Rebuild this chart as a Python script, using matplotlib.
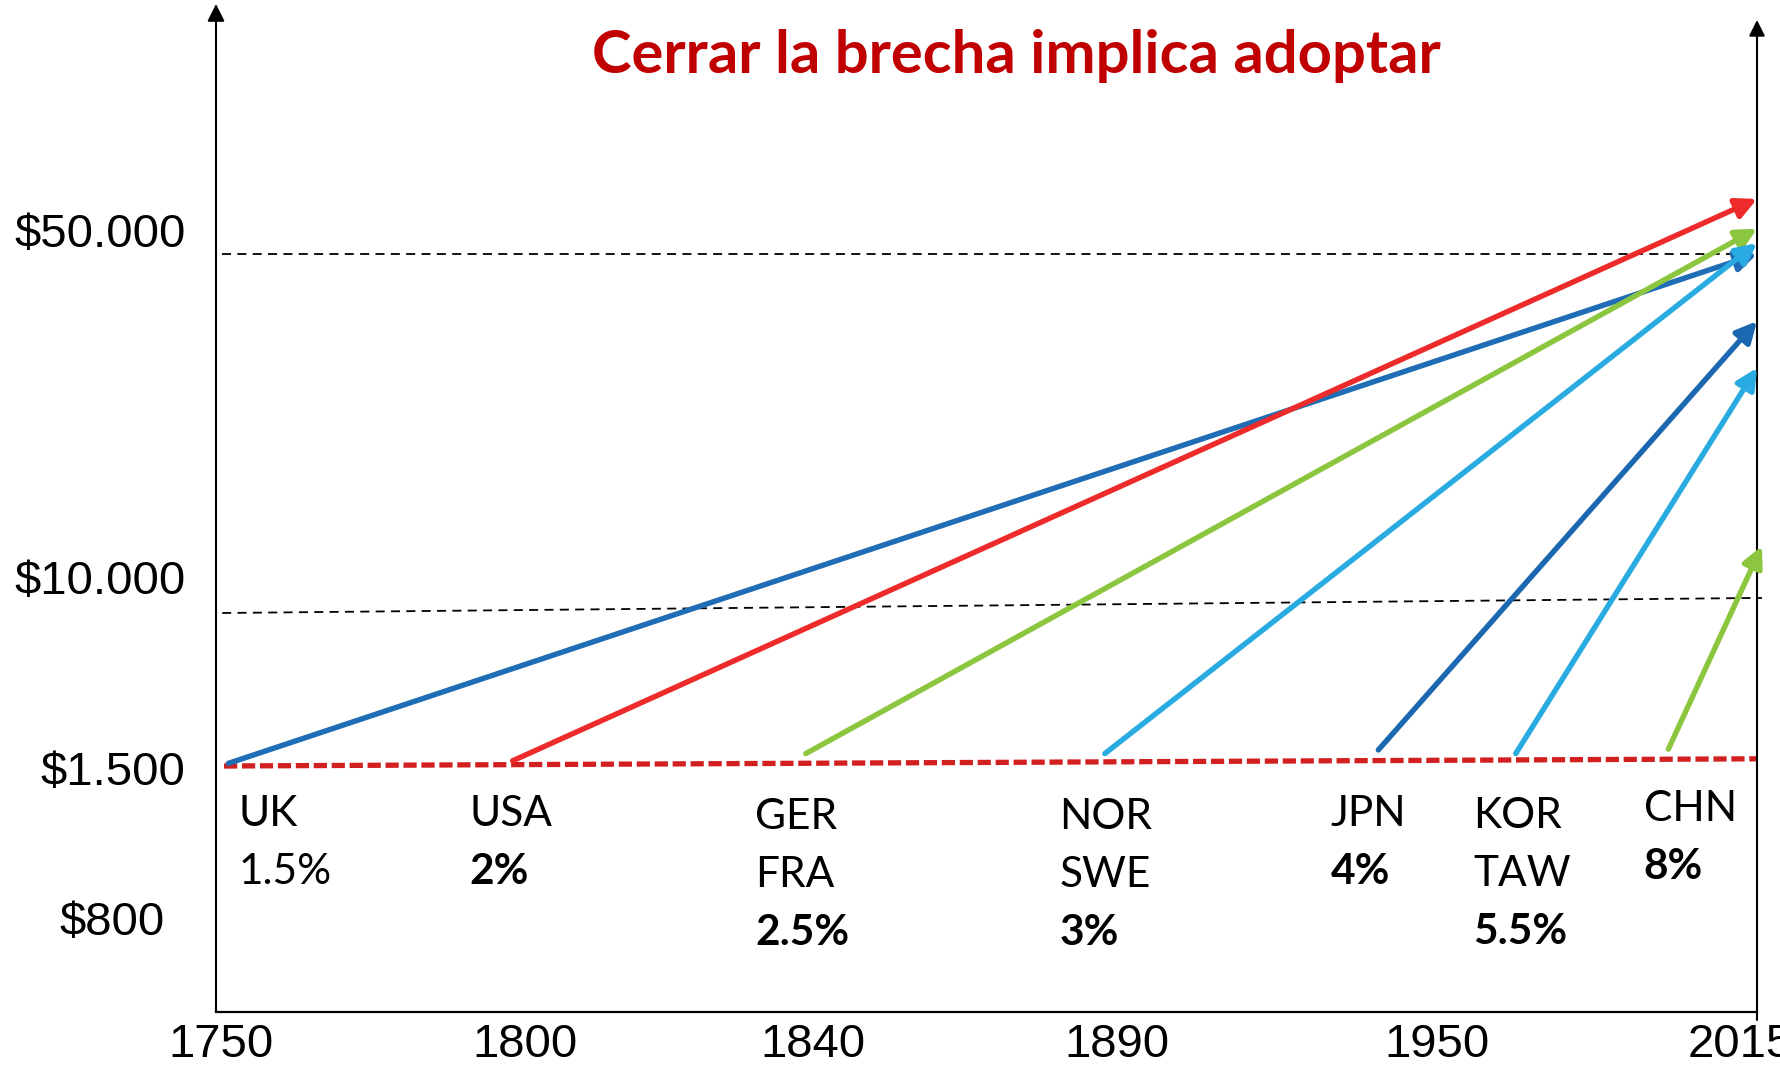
import numpy as np
import matplotlib
matplotlib.use("Agg")
import matplotlib.pyplot as plt
import matplotlib.patheffects as pe
from matplotlib.transforms import ScaledTranslation

W, H = 1781, 1066

# --- datos ---
years = [1750, 1800, 1840, 1890, 1950, 2015]
income_ticks = [800, 1500, 10000, 50000]
income_labels = ["$800", "$1.500", "$10.000", "$50.000"]

countries = [["UK"], ["USA"], ["GER", "FRA"], ["NOR", "SWE"], ["JPN"], ["KOR", "TAW"], ["CHN"]]
growth = ["1.5%", "2%", "2.5%", "3%", "4%", "5.5%", "8%"]
start_year = [1752, 1798, 1839, 1888, 1939, 1966, 1997]
start_income = [1550, 1600, 1750, 1750, 1830, 1750, 1850]
end_year = [2015, 2015, 2015, 2015, 2015, 2015, 2016]
end_income = [50000, 64000, 56000, 52500, 37000, 30000, 13500]

# lineas de referencia: (anio inicio, ingreso inicio, anio fin, ingreso fin)
ref_50k = (1751, 50000, 2015, 50000)
ref_10k = (1751, 10000, 2016, 10700)
ref_1500 = (1751.3, 1500, 2015, 1640)

# --- estilo / layout ---
colors = ["#1f6db5", "#ee2b2b", "#8cc63f", "#29abe2", "#1b68b0", "#29abe2", "#8cc63f"]
growth_bold = [False, True, True, True, True, True, True]
label_year = [1753.6, 1791, 1832, 1880.5, 1930, 1957.3, 1992]
label_dy = [-48, -48, -51, -51, -48, -50, -43]
line_step = 58

year_px = [216, 525, 813, 1117, 1437, 1757]
income_px = [148, 300, 453, 812]


def piecewise(x, xp, fp):
    x = np.asarray(x, dtype=float)
    y = np.interp(x, xp, fp)
    y = np.where(x < xp[0], fp[0] + (x - xp[0]) * (fp[1] - fp[0]) / (xp[1] - xp[0]), y)
    y = np.where(x > xp[-1], fp[-1] + (x - xp[-1]) * (fp[-1] - fp[-2]) / (xp[-1] - xp[-2]), y)
    return y


log_ticks = np.log10(income_ticks)


def x_fwd(v):
    return piecewise(v, years, year_px)


def x_inv(p):
    return piecewise(p, year_px, years)


def y_fwd(v):
    return piecewise(np.log10(np.maximum(np.asarray(v, dtype=float), 1e-9)), log_ticks, income_px)


def y_inv(p):
    return 10 ** piecewise(p, income_px, log_ticks)


fig = plt.figure(figsize=(W / 100, H / 100), dpi=100)
ax = fig.add_axes([216 / W, (H - 1012) / H, (1757 - 216) / W, (1012 - 4) / H])
ax.set_xscale("function", functions=(x_fwd, x_inv))
ax.set_yscale("function", functions=(y_fwd, y_inv))
ax.set_xlim(1750, 2015)
ax.set_ylim(float(y_inv(H - 1012)), float(y_inv(H - 4)))

for s in ["top", "left", "right"]:
    ax.spines[s].set_visible(False)
ax.spines["bottom"].set_linewidth(1.6)

# ejes con flecha
ax.annotate("", xy=(0, 1), xytext=(0, 0), xycoords="axes fraction",
            arrowprops=dict(arrowstyle="-|>", lw=1.5, color="black", mutation_scale=26,
                            shrinkA=0, shrinkB=0), annotation_clip=False)
ax.annotate("", xy=(1, 1 - 16 / 1008), xytext=(1, -8 / 1008), xycoords="axes fraction",
            arrowprops=dict(arrowstyle="-|>", lw=1.5, color="black", mutation_scale=24,
                            shrinkA=0, shrinkB=0), annotation_clip=False)

# lineas de referencia
for r in [ref_50k, ref_10k]:
    ax.plot([r[0], r[2]], [r[1], r[3]], color="black", lw=1.3, dashes=(5, 3.5),
            clip_on=False)
ax.plot([ref_1500[0], ref_1500[2]], [ref_1500[1], ref_1500[3]], color="#d21f1f", lw=3.8,
        dashes=(2.5, 0.9), clip_on=False)

shadow = [pe.SimplePatchShadow(offset=(1.5, -1.5), shadow_rgbFace="gray", alpha=0.25), pe.Normal()]

# flechas de crecimiento
for i in range(len(countries)):
    ax.annotate("", xy=(end_year[i], end_income[i]), xytext=(start_year[i], start_income[i]),
                arrowprops=dict(arrowstyle="-|>", lw=3.9, color=colors[i], mutation_scale=31,
                                shrinkA=0, shrinkB=0, path_effects=shadow),
                annotation_clip=False)

# etiquetas de paises
for i in range(len(countries)):
    lines = countries[i] + [growth[i]]
    for j, t in enumerate(lines):
        bold = growth_bold[i] and j == len(lines) - 1
        ax.annotate(t, xy=(label_year[i], 1500), xytext=(0, label_dy[i] - j * line_step),
                    textcoords="offset pixels", ha="left", va="center",
                    fontsize=30.5, family="Lato", weight="bold" if bold else "normal")

# ticks
ax.set_xticks(years)
ax.set_xticklabels([str(y) for y in years])
ax.set_yticks(income_ticks)
ax.set_yticklabels(income_labels)
ax.minorticks_off()
ax.tick_params(axis="both", length=0, labelsize=34)
ax.tick_params(axis="y", pad=22)
ax.tick_params(axis="x", pad=8)
for lab in ax.get_xticklabels() + ax.get_yticklabels():
    lab.set_family("Liberation Sans")

y_off = [(-21, 0), (0, -2), (0, 36), (0, 24)]
for lab, (dx, dy) in zip(ax.get_yticklabels(), y_off):
    lab.set_transform(lab.get_transform() + ScaledTranslation(dx / 100, dy / 100, fig.dpi_scale_trans))
x_off = [5, 0, 0, 0, 0, -17]
for lab, dx in zip(ax.get_xticklabels(), x_off):
    lab.set_transform(lab.get_transform() + ScaledTranslation(dx / 100, 0, fig.dpi_scale_trans))

fig.text(1016 / W, 1 - 56 / H, "Cerrar la brecha implica adoptar", ha="center", va="center",
         color="#c00000", fontsize=43, weight="bold", family="Lato")

fig.savefig("out.png", dpi=100)
